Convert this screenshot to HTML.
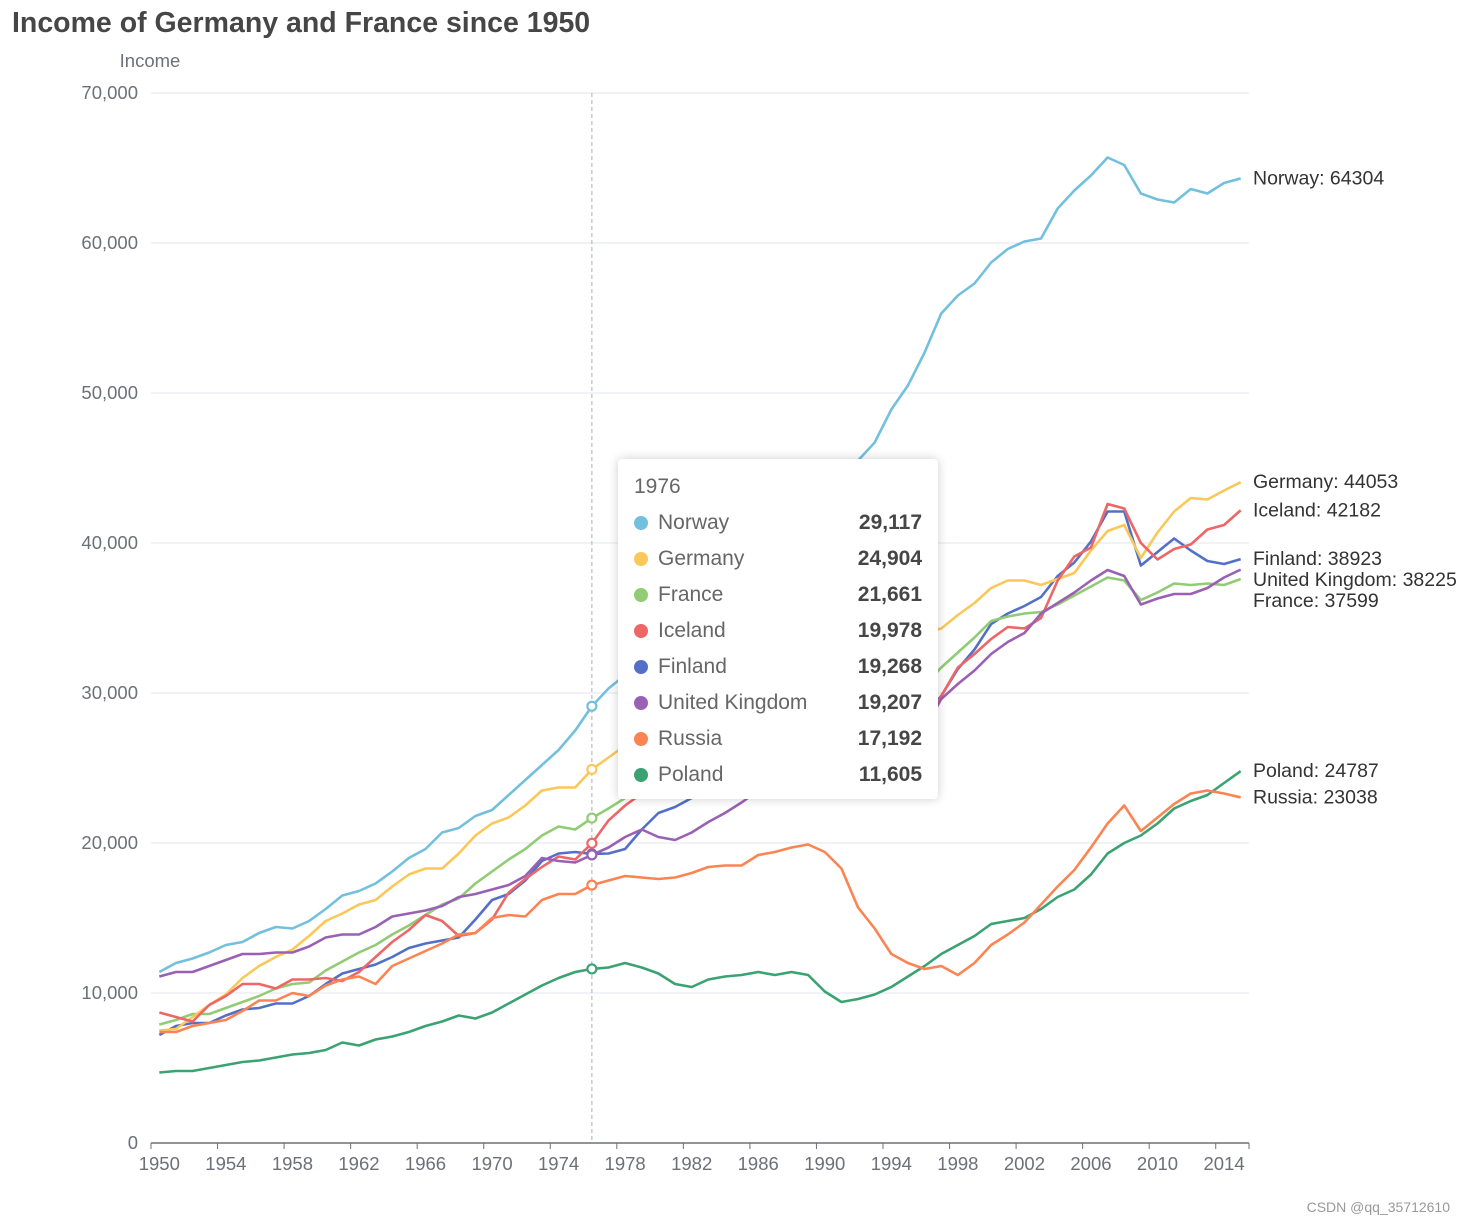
<!DOCTYPE html>
<html><head><meta charset="utf-8"><style>
html,body{margin:0;padding:0;background:#fff;}
body{width:1465px;height:1224px;overflow:hidden;font-family:"Liberation Sans",sans-serif;position:relative;}
#tt{position:absolute;left:618px;top:459px;width:320px;height:340px;background:#fff;border-radius:4px;box-shadow:0 0 10px rgba(0,0,0,0.2);box-sizing:border-box;padding:14px 16px;color:#666;font-size:21px;}
#tt .row{height:36px;line-height:36px;position:relative;}
#tt .dot{display:inline-block;width:14px;height:14px;border-radius:7px;margin-right:10px;vertical-align:-1px;}
#tt .v{position:absolute;right:0;top:0;font-weight:bold;color:#464646;}
</style></head><body>
<svg id="chart" width="1465" height="1224" style="position:absolute;left:0;top:0">
<text x="12" y="32" font-size="28.5" font-weight="bold" fill="#464646">Income of Germany and France since 1950</text>
<text x="150" y="67" font-size="18.5" fill="#6e7079" text-anchor="middle">Income</text>
<g id="grid"></g><g id="lines"></g><g id="markers"></g><g id="endlabels"></g>
<text x="1450" y="1212" font-size="14" fill="#999" text-anchor="end">CSDN @qq_35712610</text>
</svg>
<div id="tt">
<div class="row" style="height:28px;line-height:28px;margin-bottom:4px">1976</div>
<div id="ttrows"></div>
</div>
<script>
const years = [];
for (let y = 1950; y <= 2015; y++) years.push(String(y));
const seriesNames = ["Finland","France","Germany","Iceland","Norway","Poland","Russia","United Kingdom"];
const seriesColors = ["#5470c6","#91cc75","#fac858","#ee6666","#73c0de","#3ba272","#fc8452","#9a60b4"];
const finland = [7.2,7.8,8.0,8.0,8.5,8.9,9.0,9.3,9.3,9.8, 10.6,11.3,11.6,11.9,12.4,13.0,13.3,13.5,13.7,14.9, 16.2,16.6,17.5,18.8,19.3,19.4,19.268,19.3,19.6,20.9, 22.0,22.4,23.0,23.4,24.0,24.8,25.5,26.3,27.5,28.6, 28.7,26.9,25.8,25.9,26.9,27.8,28.5,29.8,31.6,32.9, 34.6,35.3,35.8,36.4,37.8,38.7,40.1,42.1,42.1,38.5, 39.4,40.3,39.5,38.8,38.6,38.923];
const france = [7.9,8.2,8.6,8.6,9.0,9.4,9.8,10.3,10.6,10.7, 11.5,12.1,12.7,13.2,13.9,14.5,15.2,15.9,16.3,17.3, 18.1,18.9,19.6,20.5,21.1,20.9,21.661,22.3,23.0,23.5, 24.0,24.2,24.5,24.8,25.3,25.8,26.3,26.8,27.6,28.3, 28.7,28.9,28.8,28.6,29.2,29.8,30.5,31.7,32.7,33.7, 34.8,35.1,35.3,35.4,35.9,36.5,37.1,37.7,37.5,36.2, 36.7,37.3,37.2,37.3,37.2,37.599];
const germany = [7.5,7.6,8.4,9.2,9.9,11.0,11.8,12.4,12.9,13.8, 14.8,15.3,15.9,16.2,17.1,17.9,18.3,18.3,19.3,20.5, 21.3,21.7,22.5,23.5,23.7,23.7,24.904,25.7,26.5,27.0, 27.5,27.5,27.5,28.0,28.8,29.3,29.7,30.0,30.7,31.5, 32.5,33.0,32.8,32.6,33.2,33.6,34.0,34.3,35.2,36.0, 37.0,37.5,37.5,37.2,37.6,38.0,39.5,40.8,41.2,39.0, 40.7,42.1,43.0,42.9,43.5,44.053];
const iceland = [8.7,8.4,8.1,9.2,9.8,10.6,10.6,10.3,10.9,10.9, 11.0,10.8,11.4,12.4,13.4,14.2,15.2,14.8,13.8,14.0, 14.9,16.7,17.6,18.4,19.1,18.9,19.978,21.5,22.5,23.3, 23.6,24.5,24.8,24.5,24.2,24.8,25.2,26.0,27.3,27.5, 27.0,26.8,26.5,25.8,26.0,26.8,27.5,29.8,31.7,32.6, 33.6,34.4,34.3,35.0,37.5,39.1,39.7,42.6,42.3,40.0, 38.9,39.6,39.9,40.9,41.2,42.182];
const norway = [11.4,12.0,12.3,12.7,13.2,13.4,14.0,14.4,14.3,14.8, 15.6,16.5,16.8,17.3,18.1,19.0,19.6,20.7,21.0,21.8, 22.2,23.2,24.2,25.2,26.2,27.5,29.117,30.3,31.2,32.0, 33.2,33.8,34.0,35.0,36.5,38.0,39.3,39.5,39.4,40.0, 41.0,42.8,45.5,46.7,48.9,50.5,52.7,55.3,56.5,57.3, 58.7,59.6,60.1,60.3,62.3,63.5,64.5,65.7,65.2,63.3, 62.9,62.7,63.6,63.3,64.0,64.304];
const poland = [4.7,4.8,4.8,5.0,5.2,5.4,5.5,5.7,5.9,6.0, 6.2,6.7,6.5,6.9,7.1,7.4,7.8,8.1,8.5,8.3, 8.7,9.3,9.9,10.5,11.0,11.4,11.605,11.7,12.0,11.7, 11.3,10.6,10.4,10.9,11.1,11.2,11.4,11.2,11.4,11.2, 10.1,9.4,9.6,9.9,10.4,11.1,11.8,12.6,13.2,13.8, 14.6,14.8,15.0,15.6,16.4,16.9,17.9,19.3,20.0,20.5, 21.3,22.3,22.8,23.2,24.0,24.787];
const russia = [7.4,7.4,7.8,8.0,8.2,8.8,9.5,9.5,10.0,9.8, 10.5,10.9,11.1,10.6,11.8,12.3,12.8,13.3,13.9,14.0, 15.0,15.2,15.1,16.2,16.6,16.6,17.192,17.5,17.8,17.7, 17.6,17.7,18.0,18.4,18.5,18.5,19.2,19.4,19.7,19.9, 19.4,18.3,15.7,14.3,12.6,12.0,11.6,11.8,11.2,12.0, 13.2,13.9,14.7,15.9,17.1,18.2,19.7,21.3,22.5,20.8, 21.7,22.6,23.3,23.5,23.3,23.038];
const uk = [11.1,11.4,11.4,11.8,12.2,12.6,12.6,12.7,12.7,13.1, 13.7,13.9,13.9,14.4,15.1,15.3,15.5,15.8,16.4,16.6, 16.9,17.2,17.8,19.0,18.8,18.7,19.207,19.7,20.4,20.9, 20.4,20.2,20.7,21.4,22.0,22.7,23.5,24.3,25.2,25.5, 25.4,25.0,25.0,25.4,26.2,26.8,27.6,29.6,30.6,31.5, 32.6,33.4,34.0,35.3,36.0,36.7,37.5,38.2,37.8,35.9, 36.3,36.6,36.6,37.0,37.7,38.225];
const yTicks = [0,10000,20000,30000,40000,50000,60000,70000];
const yTickLabels = ["0","10,000","20,000","30,000","40,000","50,000","60,000","70,000"];
const tooltipYear = "1976";
const valuesInThousands = [finland,france,germany,iceland,norway,poland,russia,uk];

const NS="http://www.w3.org/2000/svg";
const X0=151,X1=1249,Y0=1143,Y1=93,YMAX=70000;
const band=(X1-X0)/years.length;
function xPos(i){return X0+band*(i+0.5);}
function yPos(v){return Y0-(v/YMAX)*(Y0-Y1);}
function mk(tag,attrs,parent){const e=document.createElementNS(NS,tag);for(const k in attrs)e.setAttribute(k,attrs[k]);parent.appendChild(e);return e;}
const grid=document.getElementById('grid');
yTicks.forEach((t,i)=>{
  const y=yPos(t);
  if(i>0){const l=mk('line',{x1:X0,x2:X1,y1:y,y2:y,stroke:'#e0e6f1','stroke-width':1},grid);
  
  }
  const tx=mk('text',{x:138,y:y+6,'font-size':18.5,fill:'#6e7079','text-anchor':'end'},grid);
  tx.textContent=yTickLabels[i];
  
  
});
const ax=mk('line',{x1:X0,x2:X1,y1:Y0,y2:Y0,stroke:'#6e7079','stroke-width':1.5},grid);


for(let i=0;i<=years.length;i++){
  const x=X0+band*i;
  if(i%4===0||i===years.length){const tk=mk('line',{x1:x,x2:x,y1:Y0,y2:Y0+6,stroke:'#6e7079'},grid);
  
  }
}
years.forEach((yr,i)=>{
  if(i%4!==0)return;
  const tx=mk('text',{x:xPos(i),y:Y0+27,'font-size':18.5,fill:'#6e7079','text-anchor':'middle'},grid);
  tx.textContent=yr;
  
  
});
const ti=years.indexOf(tooltipYear);
const ap=mk('line',{x1:xPos(ti),x2:xPos(ti),y1:Y1,y2:Y0,stroke:'#b6bcc8','stroke-width':1.2,'stroke-dasharray':'4,3'},grid);


const lines=document.getElementById('lines'),markers=document.getElementById('markers'),el=document.getElementById('endlabels');
const labelItems=[];
valuesInThousands.forEach((arr,s)=>{
  const vals=arr.map(v=>Math.round(v*1000));
  const d=vals.map((v,i)=>(i?'L':'M')+xPos(i).toFixed(2)+' '+yPos(v).toFixed(2)).join(' ');
  const p=mk('path',{d:d,fill:'none',stroke:seriesColors[s],'stroke-width':2.6,'stroke-linejoin':'round'},lines);
  
  
  const c=mk('circle',{cx:xPos(ti),cy:yPos(vals[ti]),r:4.5,fill:'#fff',stroke:seriesColors[s],'stroke-width':2.2},markers);
  
  
  const last=vals[vals.length-1];
  labelItems.push({name:seriesNames[s],v:last,y:yPos(last),ti:vals[ti],color:seriesColors[s]});
});
const sorted=labelItems.slice().sort((a,b)=>a.y-b.y);
for(let i=1;i<sorted.length;i++){if(sorted[i].y-sorted[i-1].y<21)sorted[i].y=sorted[i-1].y+21;}
sorted.forEach(it=>{
  const tx=mk('text',{x:1253,y:it.y+6,'font-size':19.5,fill:'#333'},el);
  tx.textContent=it.name+': '+it.v;
  
  
});
const rows=document.getElementById('ttrows');
labelItems.slice().sort((a,b)=>b.ti-a.ti).forEach(it=>{
  const r=document.createElement('div');r.className='row';
  
  
  r.innerHTML='<span class="dot" style="background:'+it.color+'"></span>'+it.name+'<span class="v">'+it.ti.toLocaleString('en-US')+'</span>';
  rows.appendChild(r);
});
</script>
</body></html>
